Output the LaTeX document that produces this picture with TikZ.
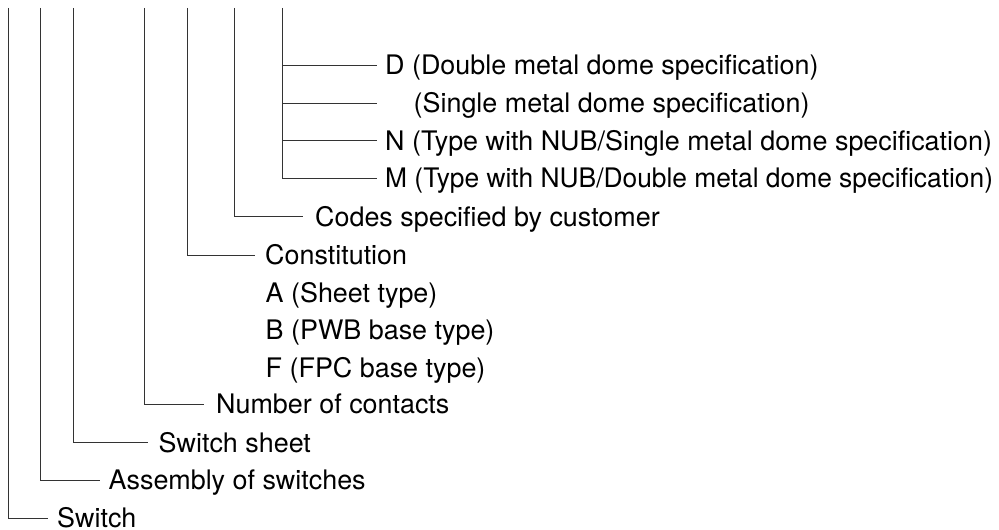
\documentclass[tikz,border=0pt]{standalone}
\usepackage{fontspec}
\setmainfont{TeX Gyre Heros}
\begin{document}
\begin{tikzpicture}[x=1bp,y=-1bp,
  lbl/.style={anchor=west,inner ysep=0pt,inner xsep=0pt,text height=19.3bp,text depth=0pt,
    font=\fontsize{26.9bp}{30bp}\selectfont},
  conn/.style={line width=0.95bp,draw=black!80}]
\useasboundingbox (0,0) rectangle (999,530);
% tops of the vertical lines
\coordinate (t1) at (8.5,8);
\coordinate (t2) at (40,8);
\coordinate (t3) at (73.5,8);
\coordinate (t4) at (144,8);
\coordinate (t5) at (187.5,8);
\coordinate (t6) at (234.5,8);
\coordinate (t7) at (282,8);
% line ends
\coordinate (eD) at (377,65);
\coordinate (eS) at (377,103);
\coordinate (eN) at (377,140.7);
\coordinate (eM) at (377,178.3);
\coordinate (eC) at (303,216.7);
\coordinate (eK) at (255,255);
\coordinate (eNum) at (204,404.3);
\coordinate (eSh) at (148,442.7);
\coordinate (eA) at (100,480);
\coordinate (eSw) at (48,518);
% labels
\node[lbl] (D) at (385,65) {D (Double metal dome specification)};
\node[lbl] (S) at (413.5,103) {(Single metal dome specification)};
\node[lbl] (N) at (385,140.7) {N (Type with NUB/Single metal dome specification)};
\node[lbl] (M) at (385,178.3) {\scalebox{0.98}[1]{M (Type with NUB/Double metal dome specification)}};
\node[lbl] (C) at (315,216.7) {Codes specified by customer};
\node[lbl] (K) at (265,255) {Constitution};
\node[lbl] (A) at (265.5,292.5) {A (Sheet type)};
\node[lbl] (B) at (265.5,330) {B (PWB base type)};
\node[lbl] (F) at (265.5,367.5) {F (FPC base type)};
\node[lbl] (Num) at (216,404.3) {Number of contacts};
\node[lbl] (Sh) at (158.5,442.7) {Switch sheet};
\node[lbl] (As) at (108.5,480) {Assembly of switches};
\node[lbl] (Sw) at (57,518) {Switch};
% connectors
\draw[conn] (t1) |- (eSw);
\draw[conn] (t2) |- (eA);
\draw[conn] (t3) |- (eSh);
\draw[conn] (t4) |- (eNum);
\draw[conn] (t5) |- (eK);
\draw[conn] (t6) |- (eC);
\draw[conn] (t7) |- (eM);
\draw[conn] (t7 |- eD) -- (eD);
\draw[conn] (t7 |- eS) -- (eS);
\draw[conn] (t7 |- eN) -- (eN);
\end{tikzpicture}
\end{document}
